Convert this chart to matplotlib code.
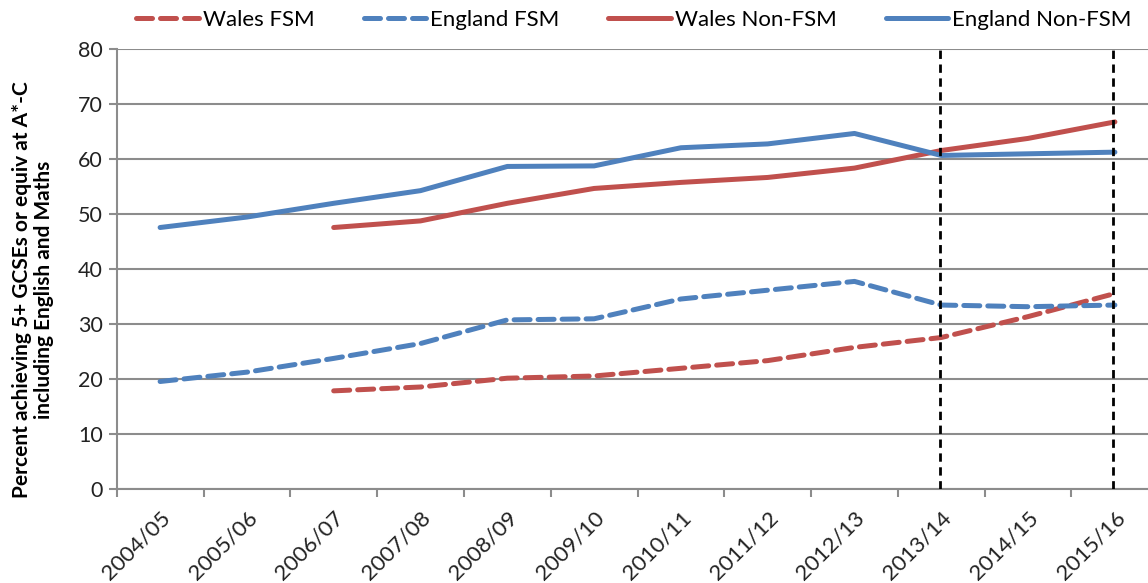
import matplotlib.pyplot as plt

years = ['2004/05', '2005/06', '2006/07', '2007/08', '2008/09', '2009/10',
         '2010/11', '2011/12', '2012/13', '2013/14', '2014/15', '2015/16']

wales_fsm = [None, None, 17.9, 18.6, 20.2, 20.6, 22.0, 23.4, 25.8, 27.6, 31.4, 35.6]
england_fsm = [19.6, 21.3, 23.8, 26.5, 30.8, 31.0, 34.6, 36.2, 37.8, 33.5, 33.2, 33.5]
wales_non_fsm = [None, None, 47.6, 48.8, 52.0, 54.7, 55.8, 56.7, 58.4, 61.6, 63.8, 66.8]
england_non_fsm = [47.6, 49.5, 52.0, 54.3, 58.7, 58.8, 62.1, 62.8, 64.7, 60.7, 61.0, 61.3]

marked_years = ['2013/14', '2015/16']

red = '#C0504D'
blue = '#4F81BD'
grid_grey = '#8c8c8c'

plt.rcParams['font.family'] = ['Lato', 'DejaVu Sans']

W, H = 1148, 583
fig = plt.figure(figsize=(W / 100, H / 100), dpi=100)
left, right_px = 116.7, 116.7 + 12 * 86.8
top, bottom = 49.3, 489.3
ax = fig.add_axes([left / W, (H - bottom) / H, (right_px - left) / W, (bottom - top) / H])

x = [i + 0.5 for i in range(len(years))]


def series(vals):
    xs = [xi for xi, v in zip(x, vals) if v is not None]
    ys = [v for v in vals if v is not None]
    return xs, ys


lw = 3.6
ax.plot(*series(wales_fsm), color=red, lw=lw, dashes=(3.2, 1.6), label='Wales FSM', dash_capstyle='round')
ax.plot(*series(england_fsm), color=blue, lw=lw, dashes=(3.2, 1.6), label='England FSM', dash_capstyle='round')
ax.plot(*series(wales_non_fsm), color=red, lw=lw, label='Wales Non-FSM', solid_capstyle='round')
ax.plot(*series(england_non_fsm), color=blue, lw=lw, label='England Non-FSM', solid_capstyle='round')

for yr in marked_years:
    ax.axvline(x[years.index(yr)] - 0.02, color='black', lw=2.0, dashes=(3, 2), zorder=5)

ax.set_xlim(0, 12)
ax.set_ylim(0, 80)
ax.set_yticks(range(0, 81, 10))
ax.set_xticks(range(0, 13))
ax.set_xticks(x, minor=True)
ax.set_xticklabels([])
ax.set_xticklabels(years, minor=True, rotation=45, ha='right', va='top',
                   rotation_mode='anchor', fontsize=16, color='#222222')
ax.tick_params(axis='x', which='minor', length=0, pad=13)
ax.tick_params(axis='x', which='major', length=6, width=1.5, color=grid_grey, direction='out')
ax.tick_params(axis='y', length=6, width=1.5, color=grid_grey, labelsize=15.5, pad=4, labelcolor='#222222')
ax.grid(axis='y', color=grid_grey, lw=1.5)
ax.set_axisbelow(True)
for s in ['top', 'right']:
    ax.spines[s].set_visible(False)
for s in ['left', 'bottom']:
    ax.spines[s].set_color(grid_grey)
    ax.spines[s].set_linewidth(1.5)

fig.text(33 / W, (H - 290) / H,
         'Percent achieving 5+ GCSEs or equiv at A*-C\nincluding English and Maths',
         rotation=90, ha='center', va='center', fontsize=15, fontweight='bold',
         linespacing=1.1)

fig.legend(loc='center', bbox_to_anchor=(634 / W, (H - 20) / H), ncol=4, frameon=False,
           fontsize=16, handlelength=2.8, handletextpad=0.2, columnspacing=2.2)

fig.savefig('out.png', dpi=100)
